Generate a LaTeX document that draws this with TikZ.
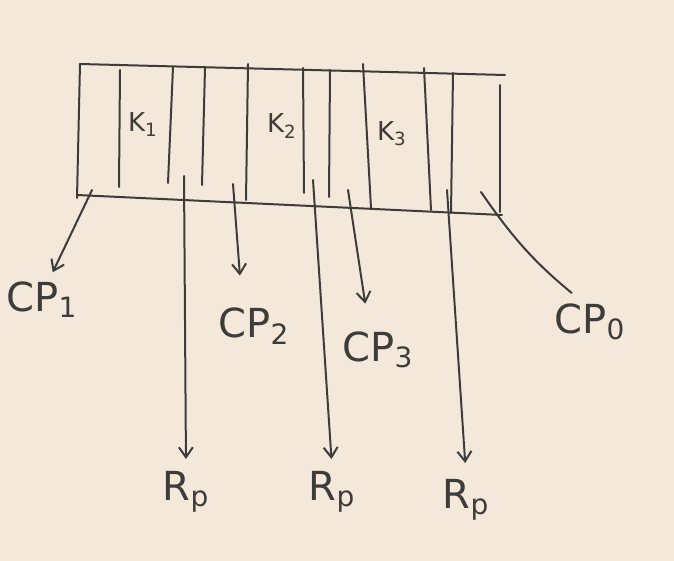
\documentclass[tikz,border=0pt]{standalone}
\usepackage{fontspec}
\setmainfont{DejaVu Sans}
\usetikzlibrary{arrows.meta}

\definecolor{paper}{RGB}{244,232,218}
\definecolor{ink}{RGB}{62,60,58}

\tikzset{
  ink/.style={draw=ink, line width=1pt, line cap=round},
  arr/.style={ink, -{Straight Barb[length=5pt,width=7pt]}},
  lbl/.style={text=ink, font=\fontsize{20}{22}\selectfont, inner sep=2pt},
  klbl/.style={text=ink, font=\fontsize{13}{14}\selectfont, inner sep=1pt},
}

\begin{document}
\begin{tikzpicture}[x=0.5pt, y=-0.5pt]

\useasboundingbox (0,0) rectangle (674,561);
\fill[paper] (0,0) rectangle (674,561);

% outline of the box
\draw[ink] (80,64) -- (505,75);
\draw[ink] (80,64) -- (77,198);
\draw[ink] (77,195) -- (502,215);
\draw[ink] (500,85) -- (500,212);

% inner walls
\draw[ink] (120,70) -- (119,187);
\draw[ink] (173,67) -- (168,183);
\draw[ink] (205,68) -- (202,185);
\draw[ink] (248,64) -- (246,200);
\draw[ink] (303,68) -- (304,193);
\draw[ink] (330,70) -- (329,197);
\draw[ink] (363,64) -- (371,208);
\draw[ink] (424,68) -- (431,210);
\draw[ink] (453,73) -- (451,213);

\node[klbl] (k1) at (143,125) {K\textsubscript{1}};
\node[klbl] (k2) at (282,126) {K\textsubscript{2}};
\node[klbl] (k3) at (392,134) {K\textsubscript{3}};

% where the arrows leave the box
\coordinate (s1) at (92,190);
\coordinate (r1) at (184,176);
\coordinate (s2) at (233,184);
\coordinate (r2) at (313,180);
\coordinate (s3) at (348,190);
\coordinate (r3) at (447,190);
\coordinate (s0) at (481,192);

\node[lbl] (cp1) at (42,300) {CP\textsubscript{1}};
\node[lbl] (cp2) at (254,326) {CP\textsubscript{2}};
\node[lbl] (cp3) at (378,350) {CP\textsubscript{3}};
\node[lbl] (cp0) at (590,322) {CP\textsubscript{0}};
\node[lbl] (rp1) at (186,492) {R\textsubscript{p}};
\node[lbl] (rp2) at (332,492) {R\textsubscript{p}};
\node[lbl] (rp3) at (466,500) {R\textsubscript{p}};

\draw[arr, shorten >=3pt] (s1) -- (cp1.70);
\draw[arr, shorten >=14pt] (s2) -- (cp2.118);
\draw[arr, shorten >=12pt] (s3) -- (cp3.112);
\draw[arr, shorten >=4pt] (r1) -- (rp1.north);
\draw[arr, shorten >=4pt] (r2) -- (rp2.north);
\draw[arr, shorten >=6pt] (r3) -- (rp3.north);
\draw[ink, shorten >=5pt] (s0) to[bend right=8] (cp0.115);

\end{tikzpicture}
\end{document}
